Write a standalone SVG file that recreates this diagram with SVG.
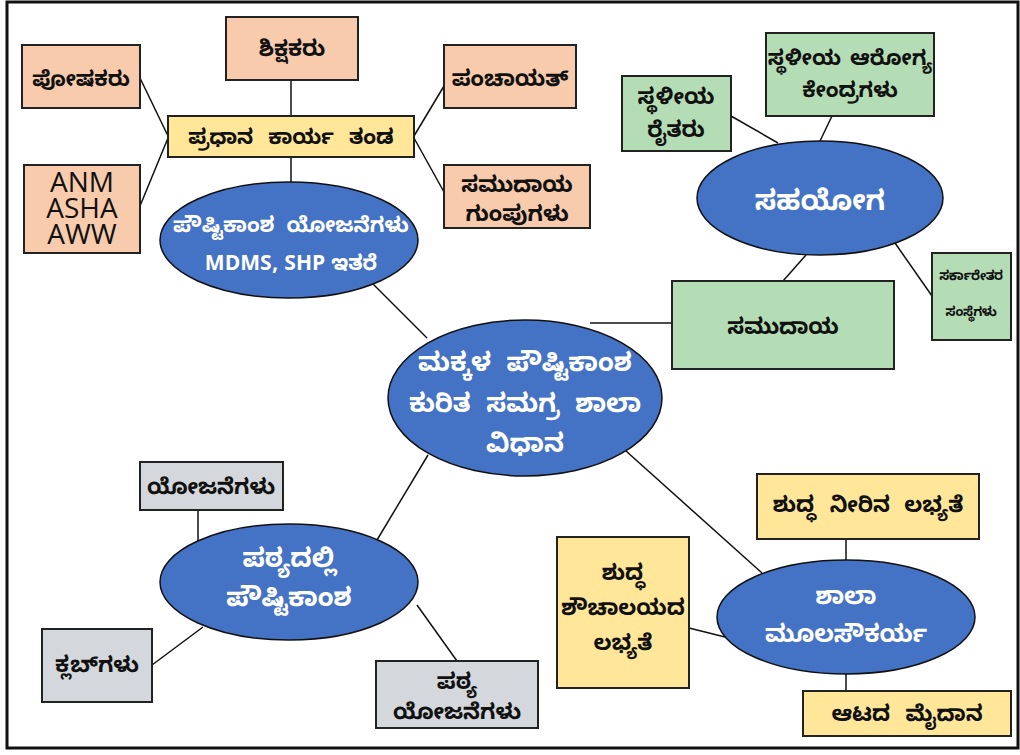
<svg xmlns="http://www.w3.org/2000/svg" width="1020" height="755" viewBox="0 0 1020 755">
<style>
.pe{fill:#F8CBAD;stroke:#222;stroke-width:2}
.ye{fill:#FFE699;stroke:#222;stroke-width:2}
.gr{fill:#B5DDB5;stroke:#222;stroke-width:2}
.gy{fill:#D4D7DB;stroke:#222;stroke-width:2}
.el{fill:#4472C4;stroke:#111;stroke-width:1.5}
.t{font-family:"Noto Sans Kannada","Noto Sans",sans-serif;font-weight:bold;font-size:22px;fill:#111;text-anchor:middle;word-spacing:5px}
.w{font-family:"Noto Sans Kannada","Noto Sans",sans-serif;font-weight:bold;font-size:25px;fill:#fff;text-anchor:middle;word-spacing:5px}
.a{font-family:"Open Sans",sans-serif;font-size:28px;fill:#111;text-anchor:middle}
.c line{stroke:#111;stroke-width:1.5}
</style>
<rect x="7" y="2" width="1011" height="746" fill="#fff" stroke="#111" stroke-width="3"/>
<g class="c">
<line x1="291" y1="80" x2="291" y2="116"/>
<line x1="291" y1="157" x2="291" y2="182"/>
<line x1="140" y1="78" x2="168" y2="136"/>
<line x1="140" y1="206" x2="168" y2="138"/>
<line x1="444" y1="86" x2="414" y2="136"/>
<line x1="444" y1="192" x2="414" y2="138"/>
<line x1="370" y1="281" x2="427" y2="338"/>
<line x1="590" y1="323" x2="672" y2="323"/>
<line x1="731" y1="116" x2="778" y2="143"/>
<line x1="832" y1="116" x2="820" y2="141"/>
<line x1="806" y1="255" x2="783" y2="281"/>
<line x1="895" y1="243" x2="932" y2="296"/>
<line x1="428" y1="455" x2="377" y2="540"/>
<line x1="198" y1="510" x2="198" y2="545"/>
<line x1="152" y1="665" x2="203" y2="627"/>
<line x1="417" y1="605" x2="457" y2="661"/>
<line x1="626" y1="451" x2="762" y2="573"/>
<line x1="846" y1="539" x2="846" y2="560"/>
<line x1="689" y1="628" x2="725" y2="637"/>
<line x1="846" y1="674" x2="846" y2="691"/>
</g>
<g id="shikshakaru"><rect class="pe" x="226" y="17" width="132" height="63"/><text class="t" x="292" y="56">ಶಿಕ್ಷಕರು</text></g>
<g id="poshakaru"><rect class="pe" x="22" y="45" width="118" height="63"/><text class="t" x="81" y="86" style="font-size:21px">ಪೋಷಕರು</text></g>
<g id="anm"><rect class="pe" x="24" y="165" width="116" height="88"/><text class="a" x="82" y="192"><tspan x="82">ANM</tspan><tspan x="82" dy="26">ASHA</tspan><tspan x="82" dy="26">AWW</tspan></text></g>
<g id="pradhana"><rect class="ye" x="168" y="116" width="246" height="41"/><text class="t" x="291" y="144" style="font-size:21px;word-spacing:9px">ಪ್ರಧಾನ ಕಾರ್ಯ ತಂಡ</text></g>
<g id="panchayat"><rect class="pe" x="444" y="45" width="132" height="63"/><text class="t" x="510" y="86">ಪಂಚಾಯತ್</text></g>
<g id="samudayagumpu"><rect class="pe" x="444" y="165" width="146" height="63"/><text class="t" x="517" y="192">ಸಮುದಾಯ</text><text class="t" x="517" y="221">ಗುಂಪುಗಳು</text></g>
<g id="poushtika"><ellipse class="el" cx="289" cy="240" rx="129" ry="58"/><text class="w" x="291" y="232" style="font-size:21px;word-spacing:6px">ಪೌಷ್ಟಿಕಾಂಶ ಯೋಜನೆಗಳು</text><text class="w" x="291" y="270" style="font-size:21px;word-spacing:0">MDMS, SHP ಇತರೆ</text></g>
<g id="raitharu"><rect class="gr" x="622" y="76" width="109" height="75"/><text class="t" x="676" y="104">ಸ್ಥಳೀಯ</text><text class="t" x="676" y="137">ರೈತರು</text></g>
<g id="arogya"><rect class="gr" x="766" y="33" width="168" height="83"/><text class="t" x="850" y="65" style="font-size:21px;word-spacing:3px">ಸ್ಥಳೀಯ ಆರೋಗ್ಯ</text><text class="t" x="850" y="97" style="font-size:21px">ಕೇಂದ್ರಗಳು</text></g>
<g id="sahayoga"><ellipse class="el" cx="820" cy="198" rx="123" ry="57"/><text class="w" x="820" y="210" style="font-size:28px">ಸಹಯೋಗ</text></g>
<g id="sarkaretara"><rect class="gr" x="932" y="253" width="79" height="87"/><text class="t" x="971" y="280" style="font-size:13px;letter-spacing:-0.5px">ಸರ್ಕಾರೇತರ</text><text class="t" x="971" y="316" style="font-size:13px;letter-spacing:-0.5px">ಸಂಸ್ಥೆಗಳು</text></g>
<g id="samudaya"><rect class="gr" x="672" y="281" width="222" height="88"/><text class="t" x="783" y="334">ಸಮುದಾಯ</text></g>
<g id="center"><ellipse class="el" cx="525" cy="398" rx="137" ry="78"/><text class="w" x="525" y="371" style="font-size:26px;word-spacing:8px">ಮಕ್ಕಳ ಪೌಷ್ಟಿಕಾಂಶ</text><text class="w" x="525" y="412" style="font-size:26px;word-spacing:8px">ಕುರಿತ ಸಮಗ್ರ ಶಾಲಾ</text><text class="w" x="525" y="452" style="font-size:26px">ವಿಧಾನ</text></g>
<g id="yojanegalu"><rect class="gy" x="140" y="462" width="143" height="48"/><text class="t" x="211" y="494">ಯೋಜನೆಗಳು</text></g>
<g id="pathyadalli"><ellipse class="el" cx="289" cy="582" rx="129" ry="58"/><text class="w" x="289" y="567" style="font-size:26px">ಪಠ್ಯದಲ್ಲಿ</text><text class="w" x="289" y="606" style="font-size:26px">ಪೌಷ್ಟಿಕಾಂಶ</text></g>
<g id="klub"><rect class="gy" x="42" y="629" width="110" height="73"/><text class="t" x="97" y="672">ಕ್ಲಬ್‌ಗಳು</text></g>
<g id="pathyayojane"><rect class="gy" x="376" y="661" width="162" height="67"/><text class="t" x="457" y="689">ಪಠ್ಯ</text><text class="t" x="457" y="719">ಯೋಜನೆಗಳು</text></g>
<g id="neeru"><rect class="ye" x="757" y="474" width="222" height="65"/><text class="t" x="868" y="512" style="word-spacing:8px">ಶುದ್ಧ ನೀರಿನ ಲಭ್ಯತೆ</text></g>
<g id="shouchalaya"><rect class="ye" x="557" y="537" width="132" height="151"/><text class="t" x="623" y="580">ಶುದ್ಧ</text><text class="t" x="623" y="615">ಶೌಚಾಲಯದ</text><text class="t" x="623" y="650">ಲಭ್ಯತೆ</text></g>
<g id="moolasoukarya"><ellipse class="el" cx="846" cy="617" rx="129" ry="57"/><text class="w" x="846" y="604" style="font-size:24px">ಶಾಲಾ</text><text class="w" x="846" y="642" style="font-size:24px">ಮೂಲಸೌಕರ್ಯ</text></g>
<g id="aata"><rect class="ye" x="803" y="691" width="208" height="45"/><text class="t" x="907" y="721" style="word-spacing:9px">ಆಟದ ಮೈದಾನ</text></g>
</svg>
